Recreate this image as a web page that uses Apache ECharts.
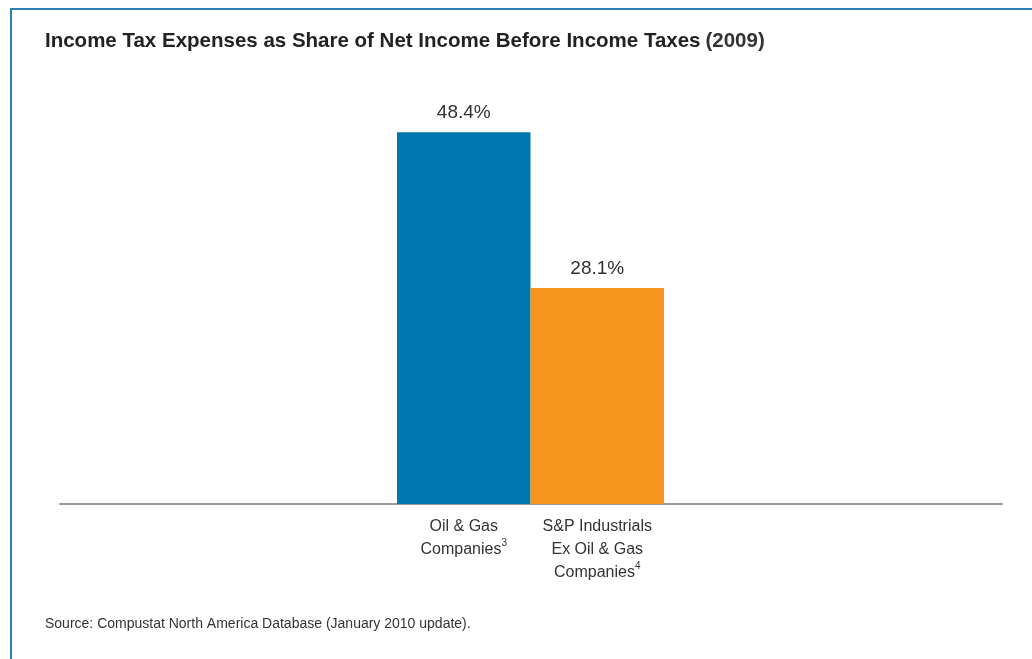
<!DOCTYPE html>
<html>
<head>
<meta charset="utf-8">
<script src="https://cdn.jsdelivr.net/npm/echarts@6/dist/echarts.min.js"></script>
<style>
  html, body { margin: 0; padding: 0; background: #fff; }
  #chart { width: 1032px; height: 659px; }
</style>
</head>
<body>
<div id="chart"></div>
<script>
// data
const categories = ["Oil & Gas\nCompanies{sup|3}", "S&P Industrials\nEx Oil & Gas\nCompanies{sup|4}"];
const shares = [48.4, 28.1];
const barColors = ["#0077ae", "#f7941d"];

const textColor = "#333";
const chart = echarts.init(document.getElementById("chart"));

const option = {
  animation: false,
  backgroundColor: "#fff",
  title: [
    {
      left: 40,
      top: 26,
      text: "{b|Income Tax Expenses as Share of Net Income Before Income Taxes} {n|(2009)}",
      textStyle: {
        rich: {
          b: { fontFamily: "Liberation Sans", fontWeight: "bold", fontSize: 20.5, color: "#222" },
          n: { fontFamily: "Liberation Sans", fontSize: 20.5, color: "#333" }
        }
      }
    },
    {
      left: 40,
      top: 612,
      text: "Source: Compustat North America Database (January 2010 update).",
      textStyle: { fontFamily: "Liberation Sans", fontWeight: "normal", fontSize: 14, color: textColor }
    }
  ],
  graphic: [
    {
      type: "polyline",
      shape: { points: [[11, 659], [11, 9], [1032, 9]] },
      style: { stroke: "#2b80b3", lineWidth: 2, fill: null }
    }
  ],
  grid: [
    { left: 397, width: 267, top: 43, bottom: 155 },
    { left: 60, right: 30, top: 43, bottom: 155 }
  ],
  xAxis: [
    {
      type: "category",
      gridIndex: 0,
      data: categories,
      axisLine: { show: false },
      axisTick: { show: false },
      axisLabel: {
        interval: 0,
        margin: 11,
        color: textColor,
        fontFamily: "Liberation Sans",
        fontSize: 16,
        lineHeight: 23,
        rich: {
          sup: { fontSize: 10, verticalAlign: "top", lineHeight: 23, padding: [0, 0, 8, 0], color: textColor }
        }
      }
    },
    {
      type: "category",
      gridIndex: 1,
      data: [""],
      axisLine: { lineStyle: { color: "#999", width: 2 } },
      axisTick: { show: false },
      axisLabel: { show: false }
    }
  ],
  yAxis: [
    { type: "value", gridIndex: 0, min: 0, max: 60, show: false },
    { type: "value", gridIndex: 1, min: 0, max: 60, show: false }
  ],
  series: [
    {
      type: "bar",
      xAxisIndex: 0,
      yAxisIndex: 0,
      barWidth: "100%",
      data: shares.map((v, i) => ({ value: v, itemStyle: { color: barColors[i] } })),
      label: {
        show: true,
        position: "top",
        distance: 10,
        formatter: p => p.value.toFixed(1) + "%",
        color: textColor,
        fontFamily: "Liberation Sans",
        fontSize: 19
      }
    }
  ]
};

chart.setOption(option);
window.addEventListener("resize", () => chart.resize());
</script>
</body>
</html>
